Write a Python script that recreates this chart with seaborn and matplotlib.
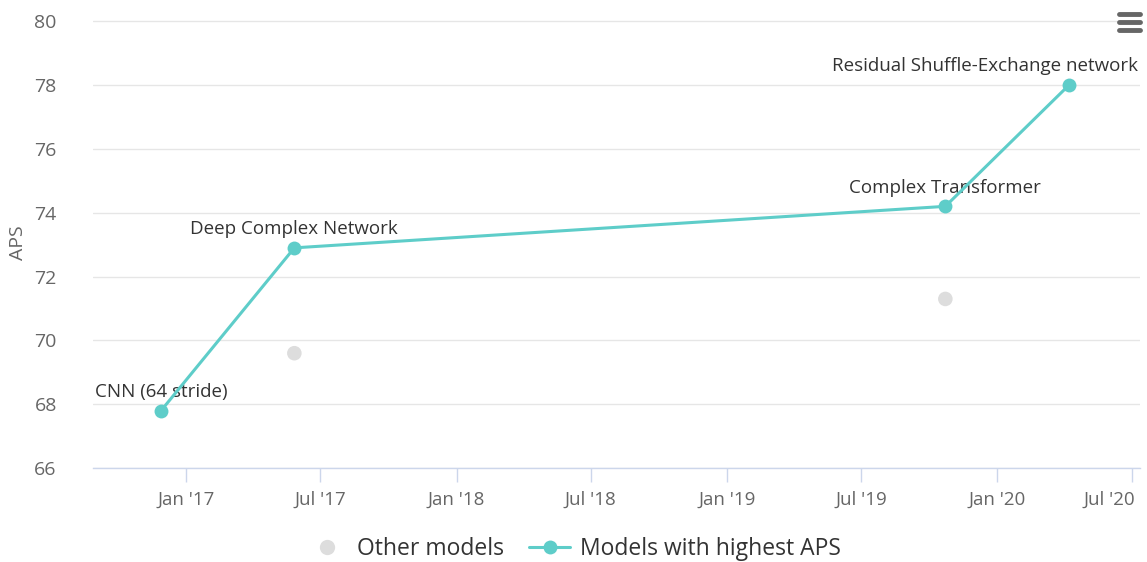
import pandas as pd
import numpy as np
import matplotlib.pyplot as plt
import matplotlib.dates as mdates
from matplotlib.lines import Line2D
from matplotlib.transforms import ScaledTranslation
import seaborn as sns

# данные
best_dates = ['2016-11-28', '2017-05-27', '2019-10-23', '2020-04-07']
best_aps = [67.8, 72.9, 74.2, 78.0]
best_names = ['CNN (64 stride)', 'Deep Complex Network', 'Complex Transformer',
              'Residual Shuffle-Exchange network']

other_dates = ['2017-05-27', '2019-10-23']
other_aps = [69.6, 71.3]

y_ticks = [66, 68, 70, 72, 74, 76, 78, 80]
x_ticks = ['2017-01-01', '2017-07-01', '2018-01-01', '2018-07-01',
           '2019-01-01', '2019-07-01', '2020-01-01', '2020-07-01']

best = pd.DataFrame({'date': pd.to_datetime(best_dates), 'APS': best_aps, 'name': best_names})
other = pd.DataFrame({'date': pd.to_datetime(other_dates), 'APS': other_aps})

teal = '#5ecdc9'
grey = '#dddddd'

sns.set_theme(style='white')
plt.rcParams['font.family'] = ['Open Sans', 'DejaVu Sans']

fig = plt.figure(figsize=(11.47, 5.62), dpi=100)
ax = fig.add_axes([0.081, 0.167, 0.913, 0.801])

sns.scatterplot(data=other, x='date', y='APS', color=grey, s=110, edgecolor='none', ax=ax, zorder=3)
sns.lineplot(data=best, x='date', y='APS', color=teal, linewidth=2.2, marker='o',
             markersize=10, markeredgewidth=0, ax=ax, zorder=4)

# подписи точек
for i, row in best.iterrows():
    if i == len(best) - 1:
        ax.annotate(row['name'], (row['date'], row['APS']), xytext=(50, 7),
                    textcoords='offset points', ha='right', va='bottom',
                    fontsize=13.5, color='#333333')
    else:
        ax.annotate(row['name'], (row['date'], row['APS']), xytext=(0, 7),
                    textcoords='offset points', ha='center', va='bottom',
                    fontsize=13.5, color='#333333')

ax.set_ylim(66, 80.1)
ax.set_xlim(pd.Timestamp('2016-08-28'), pd.Timestamp('2020-07-12'))
ax.set_yticks(y_ticks)
ax.set_xticks(pd.to_datetime(x_ticks))
ax.xaxis.set_major_formatter(mdates.DateFormatter("%b '%y"))
ax.grid(axis='y', color='#e6e6e6', linewidth=1)
ax.set_axisbelow(True)
for s in ['top', 'right', 'left']:
    ax.spines[s].set_visible(False)
ax.spines['bottom'].set_color('#ccd6eb')
ax.spines['bottom'].set_linewidth(1)
ax.tick_params(axis='x', colors='#666666', labelsize=13.5, length=10, width=1, direction='out',
               pad=6, bottom=True)
ax.tick_params(axis='x', color='#ccd6eb')
ax.tick_params(axis='y', colors='#666666', labelsize=14, length=0, pad=26)
ax.set_xlabel('')
ax.set_ylabel('APS', fontsize=14, color='#666666')
ax.yaxis.set_label_coords(-0.063, 0.5)

# последняя подпись оси X сдвинута внутрь, как в оригинале
fig.canvas.draw()
last = ax.get_xticklabels()[-1]
last.set_transform(last.get_transform() + ScaledTranslation(-16 / 72, 0, fig.dpi_scale_trans))

# легенда
handles = [
    Line2D([], [], linestyle='none', marker='o', color=grey, markersize=11, markeredgewidth=0),
    Line2D([], [], color=teal, linewidth=2.2, marker='o', markersize=10, markeredgewidth=0),
]
fig.legend(handles, ['Other models', 'Models with highest APS'], loc='lower center',
           bbox_to_anchor=(0.5, -0.035), ncol=2, frameon=False, fontsize=16.5,
           labelcolor='#333333', handlelength=1.8, columnspacing=1.1, handletextpad=0.4)

# значок меню
for yy in [0.947, 0.961, 0.975]:
    fig.add_artist(Line2D([0.976, 0.994], [yy, yy], color='#666666', linewidth=3.5,
                          solid_capstyle='round', transform=fig.transFigure))

plt.savefig('out.png', dpi=100)
